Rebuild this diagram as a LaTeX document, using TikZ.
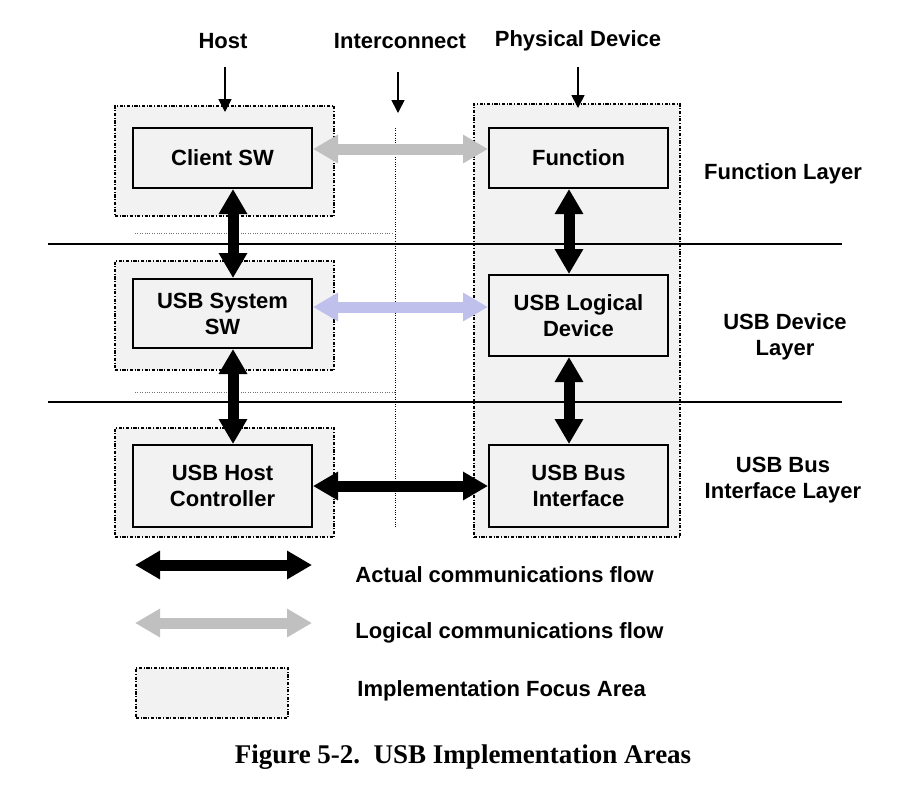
\documentclass[tikz,border=0pt]{standalone}
\usepackage{fontspec}
\setmainfont{Liberation Sans}
\newfontfamily\legendefont{Liberation Serif}
\usepackage{tikz}
\usetikzlibrary{arrows.meta,positioning,calc}
\definecolor{zonegris}{HTML}{F2F2F2}
\definecolor{fluxgris}{HTML}{C0C0C0}
\definecolor{fluxlavande}{HTML}{C0C0EC}

\begin{document}
\begin{tikzpicture}[
    x=0.5pt,y=-0.5pt,
    bloc/.style   = {draw, line width=1pt, fill=zonegris, align=center,
                     inner sep=0pt, minimum width=89.5pt,
                     font=\bfseries\fontsize{11}{13}\selectfont},
    zone/.style   = {draw, line width=0.8pt, fill=zonegris, inner sep=0pt,
                     dash pattern=on 1.6pt off 0.8pt on 0.5pt off 0.8pt},
    flux/.style   = {{Triangle[length=12.5pt,width=13.5pt]}-{Triangle[length=12.5pt,width=13.5pt]},
                     line width=5.5pt},
    titre/.style  = {font=\bfseries\fontsize{11}{13}\selectfont, align=center,
                     inner sep=0pt, yshift=-1pt},
    couche/.style = {line width=1pt},
    pointe/.style = {-{Triangle[length=6.5pt,width=6.5pt]}, line width=0.8pt},
    pointil/.style= {line width=0.5pt, dash pattern=on 0.5pt off 0.7pt},
  ]
  \useasboundingbox (0,0) rectangle (916,789);

  % zones d'implementation
  \node[zone, minimum width=109.5pt, minimum height=55pt]   (zh1) at (224.5,161)   {};
  \node[zone, minimum width=109.5pt, minimum height=54.5pt] (zh2) at (224.5,315.5) {};
  \node[zone, minimum width=109.5pt, minimum height=54.5pt] (zh3) at (224.5,482.5) {};
  \node[zone, minimum width=103pt, minimum height=216.5pt]  (zd)  at (577,320.5)   {};

  % couches
  \draw[couche] (48,244) -- (842,244);
  \draw[couche] (48,402) -- (842,402);
  \draw[pointil, fluxgris!60!black] (135,233) -- (392,233);
  \draw[pointil, fluxgris!60!black] (135,392) -- (395,392);
  \draw[pointil] (395,128) -- (395,527);

  \node[bloc, minimum height=30pt]   (client)   at (222.5,158)   {Client SW};
  \node[bloc, minimum height=34.5pt] (syssw)    at (222.5,313.5) {USB System\\SW};
  \node[bloc, minimum height=41pt]   (hc)       at (222.5,486)   {USB Host\\Controller};
  \node[bloc, minimum height=30pt]   (fonction) at (578.5,158)   {Function};
  \node[bloc, minimum height=40.5pt] (logdev)   at (578.5,315.5) {USB Logical\\Device};
  \node[bloc, minimum height=41pt]   (busif)    at (578.5,486)   {USB Bus\\Interface};

  \coordinate (colh) at (233,0);
  \coordinate (cold) at (569,0);
  \coordinate (lig1) at (0,149);
  \coordinate (lig2) at (0,307);

  \draw[flux] (client.south -| colh) -- (syssw.north -| colh);
  \draw[flux] (syssw.south -| colh) -- (hc.north -| colh);
  \draw[flux] (fonction.south -| cold) -- (logdev.north -| cold);
  \draw[flux] (logdev.south -| cold) -- (busif.north -| cold);
  \draw[flux, fluxgris]    (client.east |- lig1) -- (fonction.west |- lig1);
  \draw[flux, fluxlavande] (syssw.east |- lig2) -- (logdev.west |- lig2);
  \draw[flux] (hc.east) -- (busif.west);

  % en-tetes
  \node[titre] (host)    at (223,39) {Host};
  \node[titre] (interco) at (400,39) {Interconnect};
  \node[titre] (physdev) at (578,39) {Physical Device};

  \coordinate (hostq) at (225,67);  \coordinate (hostp) at (225,112);
  \coordinate (icq)   at (398,72);  \coordinate (icp)   at (398,113);
  \coordinate (pdq)   at (578,67);  \coordinate (pdp)   at (578,108);
  \draw[pointe] (hostq) -- (hostp);
  \draw[pointe] (icq) -- (icp);
  \draw[pointe] (pdq) -- (pdp);

  \node[titre] (fl) at (783,172) {Function Layer};
  \node[titre] (dl) at (785,335) {USB Device\\Layer};
  \node[titre] (bl) at (783,478) {USB Bus\\Interface Layer};

  % legende
  \coordinate (la1) at (135,565);  \coordinate (la2) at (312,565);
  \coordinate (lb1) at (135,623);  \coordinate (lb2) at (312,623);
  \draw[flux] (la1) -- (la2);
  \draw[flux, fluxgris] (lb1) -- (lb2);
  \node[zone, minimum width=76pt, minimum height=25pt] (lzone) at (212,693) {};

  \node[titre, anchor=west] (tact) at (355,573) {Actual communications flow};
  \node[titre, anchor=west] (tlog) at (355,631) {Logical communications flow};
  \node[titre, anchor=west] (tzon) at (357,689) {Implementation Focus Area};

  \node[font=\legendefont\bfseries\fontsize{13.5}{16}\selectfont, yshift=-1.5pt] (legende)
       at (463,754) {Figure 5-2.\ \ USB Implementation Areas};

\end{tikzpicture}
\end{document}
